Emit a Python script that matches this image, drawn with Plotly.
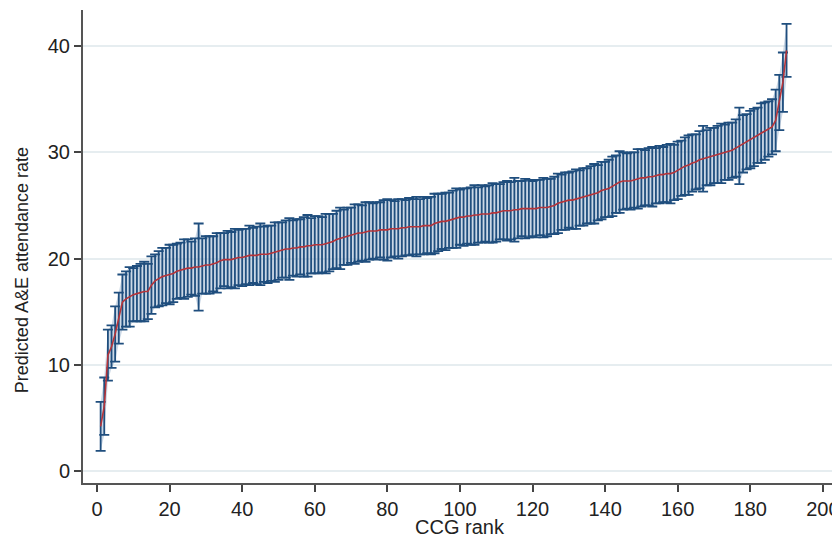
import plotly.graph_objects as go

ranks = list(range(1, 191))

predicted = [
    4.2, 6.1, 10.9, 11.7, 12.9, 14.4, 15.9, 16.2, 16.4, 16.6,
    16.7, 16.8, 16.9, 16.9, 17.5, 17.9, 18.1, 18.3, 18.4, 18.5,
    18.6, 18.8, 18.9, 19.0, 19.1, 19.1, 19.2, 19.2, 19.3, 19.4,
    19.4, 19.5, 19.6, 19.8, 19.9, 19.9, 19.9, 20.0, 20.1, 20.1,
    20.2, 20.3, 20.3, 20.3, 20.4, 20.4, 20.4, 20.5, 20.6, 20.7,
    20.8, 20.9, 20.9, 21.0, 21.0, 21.1, 21.1, 21.2, 21.2, 21.3,
    21.3, 21.3, 21.4, 21.5, 21.6, 21.8, 21.9, 22.0, 22.1, 22.2,
    22.3, 22.4, 22.4, 22.5, 22.6, 22.6, 22.6, 22.7, 22.7, 22.7,
    22.8, 22.8, 22.8, 22.9, 22.9, 23.0, 23.0, 23.0, 23.0, 23.1,
    23.1, 23.1, 23.3, 23.4, 23.5, 23.5, 23.6, 23.7, 23.8, 23.9,
    23.9, 24.0, 24.0, 24.1, 24.1, 24.2, 24.2, 24.2, 24.3, 24.3,
    24.4, 24.5, 24.5, 24.5, 24.6, 24.6, 24.7, 24.7, 24.7, 24.7,
    24.7, 24.8, 24.8, 24.8, 24.9, 25.0, 25.2, 25.3, 25.4, 25.5,
    25.5, 25.6, 25.7, 25.8, 25.9, 26.0, 26.1, 26.2, 26.4, 26.5,
    26.6, 26.8, 27.0, 27.2, 27.3, 27.3, 27.3, 27.4, 27.5, 27.6,
    27.6, 27.7, 27.7, 27.8, 27.9, 27.9, 28.0, 28.0, 28.1, 28.3,
    28.5, 28.7, 28.8, 29.0, 29.1, 29.3, 29.4, 29.5, 29.6, 29.7,
    29.8, 29.9, 30.0, 30.1, 30.2, 30.4, 30.6, 30.8, 31.0, 31.2,
    31.4, 31.6, 31.8, 32.0, 32.2, 32.4, 33.0, 34.7, 36.6, 39.6,
]

ci_halfwidth = [
    2.3, 2.7, 2.4, 2.0, 2.6, 2.4, 2.6, 2.6, 2.8, 2.5,
    2.6, 2.7, 2.8, 2.6, 2.7, 2.5, 2.6, 2.7, 2.6, 2.8,
    2.7, 2.6, 2.6, 2.8, 2.7, 2.5, 2.7, 4.1, 2.6, 2.7,
    2.7, 2.6, 2.8, 2.6, 2.5, 2.7, 2.6, 2.8, 2.6, 2.7,
    2.6, 2.8, 2.6, 2.7, 2.9, 2.6, 2.7, 2.6, 2.8, 2.7,
    2.6, 2.7, 2.9, 2.6, 2.7, 2.6, 2.8, 2.9, 2.6, 2.7,
    2.7, 2.6, 2.8, 2.7, 2.6, 2.7, 2.9, 2.6, 2.7, 2.6,
    2.8, 2.7, 2.6, 2.8, 2.7, 2.6, 2.7, 2.6, 2.8, 2.9,
    2.7, 2.6, 2.8, 2.7, 2.6, 2.7, 2.6, 2.8, 2.6, 2.7,
    2.6, 2.7, 2.8, 2.7, 2.6, 2.7, 2.6, 2.7, 2.8, 2.6,
    2.7, 2.6, 2.7, 2.8, 2.6, 2.7, 2.6, 2.7, 2.8, 2.7,
    2.6, 2.7, 2.8, 2.7, 3.0, 2.7, 2.6, 2.8, 2.7, 2.6,
    2.7, 2.6, 2.8, 2.7, 2.6, 2.7, 2.8, 2.6, 2.7, 2.6,
    2.7, 2.8, 2.6, 2.7, 2.6, 2.7, 2.8, 2.6, 2.7, 2.6,
    2.7, 2.8, 2.7, 2.9, 2.7, 2.6, 2.7, 2.6, 2.8, 2.7,
    2.6, 2.7, 2.8, 2.6, 2.7, 2.6, 2.7, 2.8, 2.6, 2.7,
    2.6, 2.7, 2.8, 2.7, 2.6, 2.7, 3.1, 2.6, 2.7, 2.6,
    2.7, 2.8, 2.6, 2.7, 2.6, 2.7, 3.6, 2.7, 2.6, 2.7,
    2.7, 2.6, 2.8, 2.7, 2.6, 2.6, 2.9, 2.6, 2.8, 2.5,
]

x_ticks = [0, 20, 40, 60, 80, 100, 120, 140, 160, 180, 200]
y_ticks = [0, 10, 20, 30, 40]

FONT = "Liberation Sans, Arial, sans-serif"
BAR_COLOR = "#1f4e7e"
BAND_COLOR = "rgba(140,168,200,0.45)"
LINE_COLOR = "#b5343a"
TEXT_COLOR = "#222222"

lower = [p - h for p, h in zip(predicted, ci_halfwidth)]
upper = [p + h for p, h in zip(predicted, ci_halfwidth)]

fig = go.Figure()

# light band between the confidence limits (shows through the gaps of the dense bars)
fig.add_trace(go.Scatter(
    x=ranks, y=lower, mode="lines", line=dict(width=0, color=BAND_COLOR),
    hoverinfo="skip", showlegend=False,
))
fig.add_trace(go.Scatter(
    x=ranks, y=upper, mode="lines", line=dict(width=0, color=BAND_COLOR),
    fill="tonexty", fillcolor=BAND_COLOR,
    hoverinfo="skip", showlegend=False,
))

fig.add_trace(go.Scatter(
    x=ranks, y=predicted, mode="markers",
    marker=dict(size=1, opacity=0),
    error_y=dict(type="data", array=ci_halfwidth, symmetric=True,
                 color=BAR_COLOR, thickness=1.8, width=5),
    hoverinfo="skip", showlegend=False,
))

fig.add_trace(go.Scatter(
    x=ranks, y=predicted, mode="lines",
    line=dict(color=LINE_COLOR, width=1.6),
    showlegend=False,
))

# page body has an 8px margin: the figure is sized so the plot area lands where the reference has it
fig.update_layout(
    width=832, height=528,
    margin=dict(l=75, r=3, t=2, b=53, autoexpand=False),
    paper_bgcolor="white", plot_bgcolor="white",
    font=dict(family=FONT, size=20, color=TEXT_COLOR),
    showlegend=False,
)

fig.update_xaxes(
    range=[-3.86, 203.9],
    tickvals=x_ticks, ticktext=[str(v) for v in x_ticks],
    ticks="outside", ticklen=7, tickwidth=1.5, tickcolor="#444444",
    showline=True, linecolor="#555555", linewidth=2,
    showgrid=False, zeroline=False, automargin=False,
    tickfont=dict(size=20, color=TEXT_COLOR),
)

fig.update_yaxes(
    range=[-1.13, 43.4],
    tickvals=y_ticks, ticktext=[str(v) for v in y_ticks],
    ticks="outside", ticklen=7, tickwidth=1.5, tickcolor="#444444",
    showline=True, linecolor="#555555", linewidth=2,
    showgrid=True, gridcolor="#e6edf0", gridwidth=2,
    zeroline=False, automargin=False,
    tickfont=dict(size=20, color=TEXT_COLOR),
)

fig.add_annotation(
    text="CCG rank",
    xref="paper", yref="paper", x=0.5, y=-0.093,
    xanchor="center", yanchor="middle",
    showarrow=False, font=dict(size=20, color=TEXT_COLOR, family=FONT),
)

fig.add_annotation(
    text="Predicted A&E attendance rate",
    xref="paper", yref="paper", x=-0.0809, y=0.450,
    xanchor="center", yanchor="middle", textangle=-90,
    showarrow=False, font=dict(size=18, color=TEXT_COLOR, family=FONT),
)

fig.write_html("out.html")
